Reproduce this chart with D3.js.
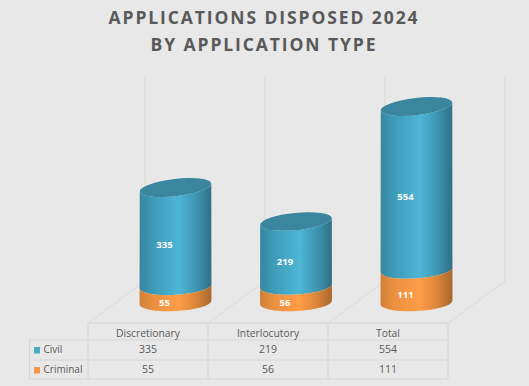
<!DOCTYPE html>
<html>
<head>
<meta charset="utf-8">
<script src="https://cdn.jsdelivr.net/npm/d3@7"></script>
<style>
    html, body { margin: 0; padding: 0; background: #e8e8e8; overflow: hidden; }
    text { font-family: "Open Sans", sans-serif; }
</style>
</head>
<body>
<div id="chart"></div>
<script>
const categories = ["Discretionary", "Interlocutory", "Total"];
const civil = [335, 219, 554];
const criminal = [55, 56, 111];
const titleLines = ["APPLICATIONS DISPOSED 2024", "BY APPLICATION TYPE"];

const width = 529, height = 386;
const rx = 36, ry = 8.6;

const svg = d3.select("#chart").append("svg")
    .attr("width", width)
    .attr("height", height)
    .style("display", "block");

svg.append("rect").attr("width", width).attr("height", height).attr("fill", "#e8e8e8");

// scales
const tableX = d3.scaleBand().domain(categories).range([88, 448]);
const x = d3.scalePoint().domain(categories).range([175.5, 416.5]);
const y = d3.scaleLinear().domain([0, 665]).range([302.5, 106.5]);
// ellipses lean more the higher they sit
const tilt = d3.scaleLinear().domain([0, 390]).range([-3, -6.6]).clamp(true);

const defs = svg.append("defs");

function sideGradient(id, stops) {
    defs.append("linearGradient").attr("id", id)
        .selectAll("stop").data(stops).join("stop")
        .attr("offset", d => d[0])
        .attr("stop-color", d => d[1]);
}
sideGradient("blueSide", [[0, "#37879f"], [0.22, "#3f9ebb"], [0.55, "#4db6d5"], [0.78, "#3f96b2"], [1, "#2e6f87"]]);
sideGradient("orangeSide", [[0, "#cf8038"], [0.2, "#ec9140"], [0.55, "#ff9c47"], [0.8, "#d98439"], [1, "#a7682d"]]);

// title
svg.append("g").selectAll("text").data(titleLines).join("text")
    .attr("x", 264)
    .attr("y", (d, i) => 24.3 + i * 26.3)
    .attr("text-anchor", "middle")
    .attr("fill", "#595959")
    .attr("font-size", 17.5)
    .attr("font-weight", 700)
    .attr("letter-spacing", 1.9)
    .text(d => d);

// back wall and floor lines
const gridColor = "#dadada";
const grid = [...categories.map(c => tableX(c)), tableX.range()[1]];
svg.append("g").selectAll("line").data(grid).join("line")
    .attr("x1", d => d + 57).attr("x2", d => d + 57)
    .attr("y1", 76).attr("y2", 281)
    .attr("stroke", gridColor);
svg.append("g").selectAll("line").data(grid).join("line")
    .attr("x1", d => d).attr("x2", d => d + 57)
    .attr("y1", 323).attr("y2", 281)
    .attr("stroke", gridColor);

// piece of a cylinder between two values
function sidePath(cx, v0, v1) {
    const t0 = tilt(v0) * Math.PI / 180, t1 = tilt(v1) * Math.PI / 180;
    const dx0 = rx * Math.cos(t0), dy0 = rx * Math.sin(t0);
    const dx1 = rx * Math.cos(t1), dy1 = rx * Math.sin(t1);
    const y0 = y(v0), y1 = y(v1);
    return `M${cx - dx1},${y1 - dy1}`
        + `L${cx - dx0},${y0 - dy0}`
        + `A${rx},${ry} ${tilt(v0)} 0 0 ${cx + dx0},${y0 + dy0}`
        + `L${cx + dx1},${y1 + dy1}`
        + `A${rx},${ry} ${tilt(v1)} 0 1 ${cx - dx1},${y1 - dy1}Z`;
}

const bars = svg.append("g").selectAll("g").data(categories).join("g");

bars.append("path")
    .attr("d", (c, i) => sidePath(x(c), criminal[i], criminal[i] + civil[i]))
    .attr("fill", "url(#blueSide)");

bars.append("path")
    .attr("d", (c, i) => sidePath(x(c), 0, criminal[i]))
    .attr("fill", "url(#orangeSide)");

bars.append("ellipse")
    .attr("rx", rx)
    .attr("ry", ry)
    .attr("transform", (c, i) => `translate(${x(c)},${y(criminal[i] + civil[i])}) rotate(${tilt(criminal[i] + civil[i])})`)
    .attr("fill", "#3a869e");

// data labels
function addLabels(values, base) {
    svg.append("g").selectAll("text").data(categories).join("text")
        .attr("x", c => x(c) - 11)
        .attr("y", (c, i) => y(base(i) + values[i] / 2) + 11.5)
        .attr("text-anchor", "middle")
        .attr("fill", "#ffffff")
        .attr("font-size", 9.5)
        .attr("font-weight", 700)
        .text((c, i) => values[i]);
}
addLabels(civil, i => criminal[i]);
addLabels(criminal, () => 0);

// data table
const tableRight = tableX.range()[1], tableLeft = tableX.range()[0], legendLeft = 29.5;
const rowY = [323, 340, 360, 379];
const table = svg.append("g").attr("stroke", "#d6d6d6").attr("fill", "none");
table.selectAll(".row").data(rowY).join("line")
    .attr("class", "row")
    .attr("x1", (d, i) => i === 0 ? tableLeft : legendLeft)
    .attr("x2", tableRight)
    .attr("y1", d => d).attr("y2", d => d);
table.selectAll(".col").data(grid).join("line")
    .attr("class", "col")
    .attr("x1", d => d).attr("x2", d => d)
    .attr("y1", 323).attr("y2", 379);
table.append("line")
    .attr("x1", legendLeft).attr("x2", legendLeft)
    .attr("y1", 340).attr("y2", 379);

const tableText = "#595959";
svg.append("g").selectAll("text").data(categories).join("text")
    .attr("x", c => tableX(c) + tableX.bandwidth() / 2)
    .attr("y", 337)
    .attr("text-anchor", "middle")
    .attr("fill", tableText)
    .attr("font-size", 10.3)
    .text(c => c);

const rows = [
    { name: "Civil", values: civil, color: "#4bacc6", top: rowY[1] },
    { name: "Criminal", values: criminal, color: "#f79646", top: rowY[2] }
];
const rowG = svg.append("g").selectAll("g").data(rows).join("g");
rowG.append("rect")
    .attr("x", 34).attr("y", d => d.top + 7)
    .attr("width", 6).attr("height", 6.5)
    .attr("fill", d => d.color);
rowG.append("text")
    .attr("x", 43.5).attr("y", d => d.top + 12.5)
    .attr("fill", tableText)
    .attr("font-size", 10)
    .text(d => d.name);
rowG.selectAll(".val").data(d => d.values.map((v, i) => ({ v, c: categories[i], top: d.top }))).join("text")
    .attr("class", "val")
    .attr("x", d => tableX(d.c) + tableX.bandwidth() / 2)
    .attr("y", d => d.top + 13)
    .attr("text-anchor", "middle")
    .attr("fill", tableText)
    .attr("font-size", 10.5)
    .text(d => d.v);
</script>
</body>
</html>
